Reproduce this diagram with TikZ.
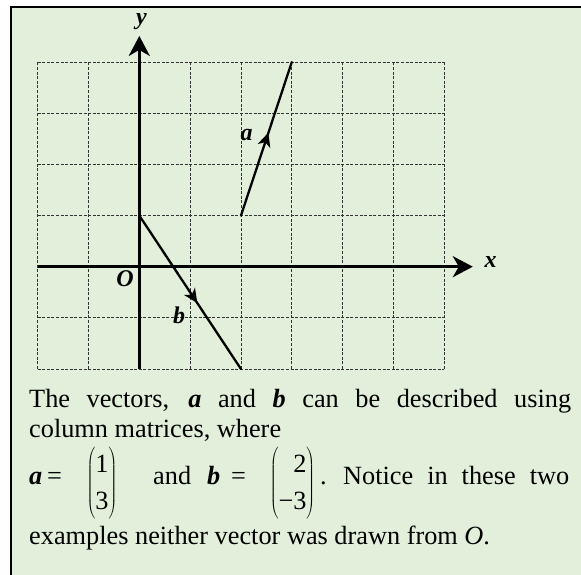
\documentclass[tikz,border=0pt]{standalone}
\usepackage{fontspec}
\setmainfont{Liberation Serif}
\usetikzlibrary{arrows.meta,decorations.markings}
\definecolor{bggreen}{HTML}{E2EFDA}
\newcommand\mycolvec[3]{$\left(\vcenter{\hbox{\renewcommand\arraystretch{1.2}\begin{tabular}{@{}#1@{}}#2\\#3\end{tabular}}}\right)$}
\begin{document}
\begin{tikzpicture}[x=1pt,y=1pt,
  gridline/.style={draw=black!80, line width=0.9pt, dash pattern=on 3pt off 1.6pt},
  axis/.style={line width=2.8pt, -{Stealth[length=20pt,width=21pt,inset=6pt]}},
  vec/.style={line width=2.3pt, line cap=round},
  midarrow/.style={postaction={decorate, decoration={markings,
      mark=at position #1 with {\arrow{Stealth[length=14pt,width=13pt,inset=4pt]}}}}},
  lbl/.style={inner sep=0pt, anchor=base, font=\fontsize{24}{27}\selectfont\bfseries\itshape},
  txt/.style={inner sep=0pt, anchor=base west, font=\fontsize{26.3}{31}\selectfont},
  mat/.style={inner sep=0pt, font=\fontsize{26.3}{31}\selectfont},
]
\useasboundingbox (0,0) rectangle (581,575);
\fill[white] (0,0) rectangle (581,575);
\fill[bggreen] (11,0) rectangle (581,568);
\draw[line width=2pt] (11,0) -- (11,568) -- (581,568);

\begin{scope}[shift={(139.3,308.3)}, x=50.84pt, y=51.17pt]
  \foreach \i in {-2,...,6} \draw[gridline] (\i,-2) -- (\i,4);
  \foreach \j in {-2,...,4} \draw[gridline] (-2,\j) -- (6,\j);
  \coordinate (O) at (0,0);
  \coordinate (xs) at (-2,0);
  \coordinate (xe) at (6.56,0);
  \coordinate (ys) at (0,-2);
  \coordinate (ye) at (0,4.51);
  \draw[axis] (xs) -- (xe);
  \draw[axis] (ys) -- (ye);
  \coordinate (a0) at (2,1);
  \coordinate (a1) at (3,4);
  \coordinate (b0) at (0,1);
  \coordinate (b1) at (2,-2);
  \draw[vec, midarrow=0.54] (a0) -- (a1);
  \draw[vec, midarrow=0.57] (b0) -- (b1);
\end{scope}

\node[lbl] (ylab) at (141.5,550) {y};
\node[lbl] (xlab) at (490.5,307) {x};
\node[lbl] (olab) at (125,288) {O};
\node[lbl] (alab) at (246.5,434) {a};
\node[lbl] (blab) at (179,251) {b};

\node[txt] (line1) at (29,167) {\makebox[542pt][s]{The vectors, \textbf{\textit{a}} and \textbf{\textit{b}} can be described using}};
\node[txt] (line2) at (29,137) {column matrices, where};
\node[txt] (va) at (29,90) {\textbf{\textit{a}}};
\node[txt] (eqa) at (47,90) {=};
\node[mat] (ma) at (102,91.5) {\mycolvec{c}{1}{3}};
\node[txt] (and) at (153,90) {and};
\node[txt] (vb) at (207,90) {\textbf{\textit{b}}};
\node[txt] (eqb) at (231,90) {=};
\node[mat] (mb) at (292.5,91.5) {\mycolvec{r}{2}{−3}};
\node[txt] (dot) at (320,90) {.};
\node[txt] (notice) at (343,90) {\makebox[226pt][s]{Notice in these two}};
\node[txt] (line4) at (29,30) {examples neither vector was drawn from \textit{O}.};
\end{tikzpicture}
\end{document}
